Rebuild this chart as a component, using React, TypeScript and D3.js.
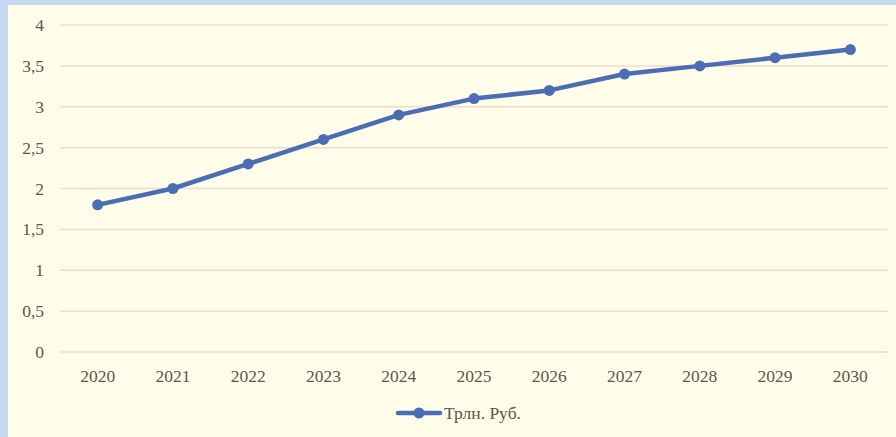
import { useRef, useEffect } from "react";
import * as d3 from "d3";

const years = ["2020", "2021", "2022", "2023", "2024", "2025", "2026", "2027", "2028", "2029", "2030"];
const values = [1.8, 2.0, 2.3, 2.6, 2.9, 3.1, 3.2, 3.4, 3.5, 3.6, 3.7];
const yTicks = [0, 0.5, 1, 1.5, 2, 2.5, 3, 3.5, 4];
const seriesName = "Трлн. Руб.";

const W = 896;
const H = 437;
const FONT = "'Times New Roman', Tinos, 'Liberation Serif', 'DejaVu Serif', serif";
const TEXT = "#5f554b";
const LINE = "#4a6db3";

export default function App() {
  const svgRef = useRef<SVGSVGElement>(null);

  useEffect(() => {
    if (!svgRef.current) return;
    const svg = d3.select(svgRef.current);
    svg.selectAll("*").remove();

    // frame
    svg.append("rect").attr("width", W).attr("height", H).attr("fill", "#c6d9f1");
    svg.append("rect").attr("x", 8).attr("y", 5).attr("width", W - 8).attr("height", H - 5).attr("fill", "#fffde9");

    const left = 60, right = 888, top = 25, bottom = 352;
    const x = d3.scaleBand().domain(years).range([left, right]);
    const y = d3.scaleLinear().domain([0, 4]).range([bottom, top]);

    // gridlines
    svg.append("g").selectAll("line").data(yTicks).enter().append("line")
      .attr("x1", left).attr("x2", right)
      .attr("y1", (d) => y(d)).attr("y2", (d) => y(d))
      .attr("stroke", "#f0dccb").attr("stroke-width", 1.5);

    const txt = svg.append("g").style("font-family", FONT).attr("font-size", 17.5).attr("fill", TEXT);

    // y labels
    txt.append("g").selectAll("text").data(yTicks).enter().append("text")
      .attr("x", 44).attr("y", (d) => y(d) + 6)
      .attr("text-anchor", "end")
      .text((d) => d3.format("")(d).replace(".", ","));

    // x labels
    txt.append("g").selectAll("text").data(years).enter().append("text")
      .attr("x", (d) => (x(d) ?? 0) + x.bandwidth() / 2).attr("y", 382)
      .attr("text-anchor", "middle")
      .text((d) => d);

    const cx = (i: number) => (x(years[i]) ?? 0) + x.bandwidth() / 2;
    const line = d3.line<number>().x((_, i) => cx(i)).y((d) => y(d));

    svg.append("path").datum(values)
      .attr("d", line).attr("fill", "none")
      .attr("stroke", LINE).attr("stroke-width", 4.5).attr("stroke-linejoin", "round").attr("stroke-linecap", "round");

    svg.append("g").selectAll("circle").data(values).enter().append("circle")
      .attr("cx", (_, i) => cx(i)).attr("cy", (d) => y(d)).attr("r", 5.5)
      .attr("fill", LINE);

    // legend
    const ly = 413;
    svg.append("line").attr("x1", 398).attr("x2", 440).attr("y1", ly).attr("y2", ly)
      .attr("stroke", LINE).attr("stroke-width", 4.5).attr("stroke-linecap", "round");
    svg.append("circle").attr("cx", 419).attr("cy", ly).attr("r", 5.5).attr("fill", LINE);
    txt.append("text").attr("x", 444).attr("y", ly + 6)
      .text(seriesName);

    return () => {
      svg.selectAll("*").remove();
    };
  }, []);

  return (
    <div style={{ position: "fixed", left: 0, top: 0, width: W, height: H }}>
      <svg ref={svgRef} width={W} height={H} style={{ display: "block" }} />
    </div>
  );
}
